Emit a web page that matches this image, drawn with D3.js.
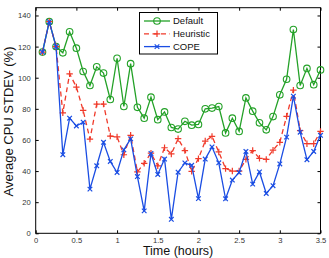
<!DOCTYPE html>
<html><head><meta charset="utf-8">
<script src="https://cdn.jsdelivr.net/npm/d3@7"></script>
<style>body{margin:0;background:#fff}svg{display:block}text{font-family:"Liberation Sans",Arial,sans-serif}</style>
</head><body><svg id="c" width="329" height="258"></svg>
<script>
const times = d3.range(1, 43).map(k => k / 12);
const seriesNames = ["Default", "Heuristic", "COPE"];
const defaultVals = [116.5,136,120,116,129.5,119,104,95,107,103,86,112.5,81.5,109,81,74,87.5,73,78,68,67,72,69.5,70,80,80.5,81.5,64.5,74,65.5,87,78.5,71,66.5,75,89,99,131,95,106,95.5,105];
const heuristicVals = [116.5,136,120,77.4,102.5,94,79,60.5,83,83,62.5,62,50.5,63,39.5,45,51.5,43.4,55,51,60.8,53.2,39.8,48,59.3,62.3,52.3,41.6,40,40,47.5,53.2,48.2,47.5,53.4,58.5,75.2,92,66,57.6,57.6,65.5];
const copeVals = [116.5,136,120,50.5,74,69,71.4,28.4,43.4,58.5,46.2,39.1,53.7,60.7,36.5,14.4,51.3,37.8,47.7,9,39.3,45.2,43.7,22.3,47.7,55.5,45.3,22.2,34.2,39.1,52.6,31.6,39.4,25.6,30.6,44.6,61.8,88.1,65,47.3,52.6,63];
const xTicks = [0,0.5,1,1.5,2,2.5,3,3.5];
const yTicks = [0,20,40,60,80,100,120,140];
const xLabel = "Time (hours)";
const yLabel = "Average CPU STDEV (%)";

const colors = {Default:"#23a127", Heuristic:"#f03a2a", COPE:"#1a4de3"};
const svg = d3.select("#c");
const L = 35.7, R = 320.5, T = 7.7, B = 233.3;
const x = d3.scaleLinear().domain([0,3.5]).range([L,R]);
const y = d3.scaleLinear().domain([0,145]).range([B,T]);

svg.append("rect").attr("x",L).attr("y",T).attr("width",R-L).attr("height",B-T)
  .attr("fill","none").attr("stroke","#000").attr("stroke-width",1);

const fmt = d => String(d);
const axB = d3.axisBottom(x).tickValues(xTicks).tickFormat(fmt).tickSizeInner(-3).tickSizeOuter(0).tickPadding(4);
const axT = d3.axisTop(x).tickValues(xTicks).tickFormat("").tickSizeInner(-3).tickSizeOuter(0);
const axL = d3.axisLeft(y).tickValues(yTicks).tickFormat(fmt).tickSizeInner(-3).tickSizeOuter(0).tickPadding(5);
const axR = d3.axisRight(y).tickValues(yTicks).tickFormat("").tickSizeInner(-3).tickSizeOuter(0);
function style(g){g.select(".domain").remove();g.selectAll("line").attr("stroke","#000");g.selectAll("text").attr("font-size","7.6px").attr("fill","#333").attr("font-family","'Liberation Sans',Arial,sans-serif");}
svg.append("g").attr("transform",`translate(0,${B})`).call(axB).call(style);
svg.append("g").attr("transform",`translate(0,${T})`).call(axT).call(style);
svg.append("g").attr("transform",`translate(${L},0)`).call(axL).call(style);
svg.append("g").attr("transform",`translate(${R},0)`).call(axR).call(style);

svg.append("text").attr("x",(L+R)/2).attr("y",255).attr("text-anchor","middle").attr("font-size","12.5px").attr("fill","#111").text(xLabel);
svg.append("text").attr("transform",`translate(12.5,${(T+B)/2+1}) rotate(-90)`).attr("text-anchor","middle").attr("font-size","13px").attr("fill","#111").text(yLabel);

const data = {Default:defaultVals, Heuristic:heuristicVals, COPE:copeVals};
const line = d3.line().x((d,i)=>x(times[i])).y(d=>y(d));

function marker(g, name, cx, cy){
  const c = colors[name];
  if(name==="Default"){
    g.append("circle").attr("cx",cx).attr("cy",cy).attr("r",3.3).attr("fill","none").attr("stroke",c).attr("stroke-width",1.1);
  } else if(name==="Heuristic"){
    const s=3.2;
    g.append("path").attr("d",`M${cx-s},${cy}H${cx+s}M${cx},${cy-s}V${cy+s}`).attr("stroke",c).attr("stroke-width",1.2);
  } else {
    const s=2.3;
    g.append("path").attr("d",`M${cx-s},${cy-s}L${cx+s},${cy+s}M${cx-s},${cy+s}L${cx+s},${cy-s}`).attr("stroke",c).attr("stroke-width",1.2);
  }
}

seriesNames.forEach(name=>{
  const g = svg.append("g");
  g.append("path").attr("d",line(data[name])).attr("fill","none").attr("stroke",colors[name]).attr("stroke-width",1.3)
    .attr("stroke-dasharray", name==="Heuristic" ? "5,3.5" : null);
  data[name].forEach((v,i)=>marker(g,name,x(times[i]),y(v)));
});

const lg = svg.append("g");
lg.append("rect").attr("x",139.5).attr("y",12.5).attr("width",78).attr("height",41.5).attr("fill","#fff").attr("stroke","#000").attr("stroke-width",1);
seriesNames.forEach((name,i)=>{
  const cy = 21 + i*12.8;
  lg.append("line").attr("x1",144).attr("x2",170).attr("y1",cy).attr("y2",cy).attr("stroke",colors[name]).attr("stroke-width",1.3)
    .attr("stroke-dasharray", name==="Heuristic" ? "5,3.5" : null);
  marker(lg,name,157,cy);
  lg.append("text").attr("x",173).attr("y",cy+3.3).attr("font-size","9.5px").attr("fill","#111").text(name);
});
</script></body></html>
